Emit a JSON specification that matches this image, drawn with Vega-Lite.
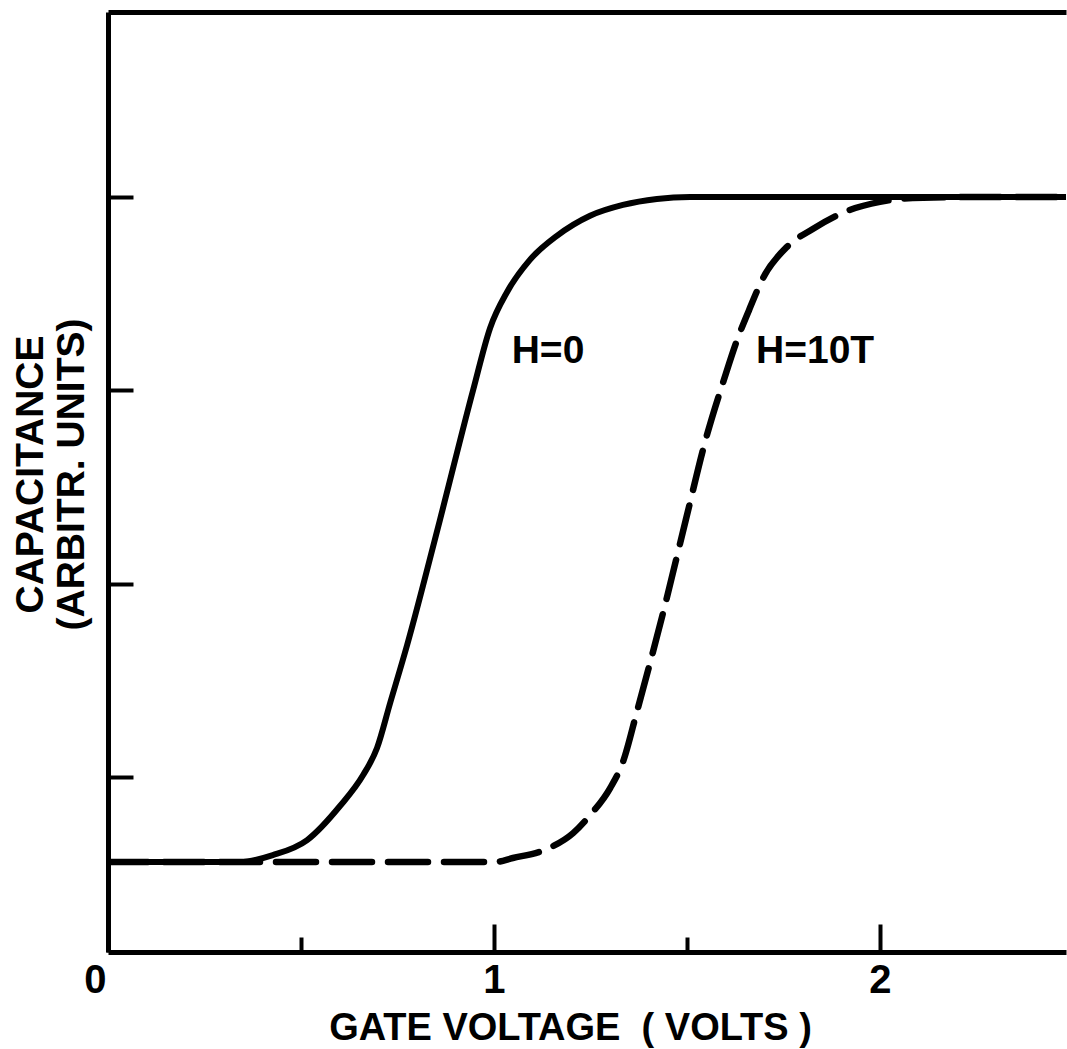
{
  "$schema": "https://vega.github.io/schema/vega-lite/v6.json",
  "width": 958,
  "height": 940,
  "autosize": {"type": "none"},
  "padding": {"left": 108, "top": 12, "right": 1, "bottom": 97},
  "background": "white",
  "config": {
    "view": {"stroke": null},
    "font": "Liberation Sans",
    "axis": {"domainColor": "black", "tickColor": "black", "labelColor": "black", "titleColor": "black", "grid": false}
  },
  "datasets": {
    "h0": [
      {"v": 0, "c": 0.56}, {"v": 0.342, "c": 0.56}, {"v": 0.427, "c": 0.596}, {"v": 0.516, "c": 0.674},
      {"v": 0.601, "c": 0.85}, {"v": 0.661, "c": 1.01}, {"v": 0.697, "c": 1.15}, {"v": 0.731, "c": 1.383},
      {"v": 0.775, "c": 1.683}, {"v": 0.86, "c": 2.33}, {"v": 0.946, "c": 3.002}, {"v": 0.99, "c": 3.323},
      {"v": 1.034, "c": 3.509}, {"v": 1.093, "c": 3.675}, {"v": 1.163, "c": 3.799}, {"v": 1.249, "c": 3.903},
      {"v": 1.334, "c": 3.959}, {"v": 1.422, "c": 3.99}, {"v": 1.508, "c": 4.0}, {"v": 2.482, "c": 4.0}
    ],
    "h10": [
      {"v": 0, "c": 0.56}, {"v": 1.0, "c": 0.56}, {"v": 1.049, "c": 0.581}, {"v": 1.137, "c": 0.628},
      {"v": 1.205, "c": 0.71}, {"v": 1.249, "c": 0.803}, {"v": 1.301, "c": 0.943}, {"v": 1.335, "c": 1.083},
      {"v": 1.37, "c": 1.336}, {"v": 1.436, "c": 1.833}, {"v": 1.497, "c": 2.33}, {"v": 1.549, "c": 2.749},
      {"v": 1.598, "c": 3.069}, {"v": 1.629, "c": 3.256}, {"v": 1.661, "c": 3.416}, {"v": 1.700, "c": 3.592},
      {"v": 1.759, "c": 3.742}, {"v": 1.826, "c": 3.835}, {"v": 1.915, "c": 3.928}, {"v": 2.0, "c": 3.975},
      {"v": 2.085, "c": 3.995}, {"v": 2.259, "c": 4.0}, {"v": 2.482, "c": 4.0}
    ],
    "labels": [
      {"v": 1.14, "c": 3.204, "text": "H=0"},
      {"v": 1.832, "c": 3.204, "text": "H=10T"}
    ]
  },
  "resolve": {"axis": {"x": "independent"}},
  "layer": [
    {
      "data": {"name": "h10"},
      "mark": {"type": "line", "color": "black", "strokeWidth": 6.5, "interpolate": "monotone", "strokeDash": [40, 16], "strokeCap": "round", "clip": true},
      "encoding": {
        "x": {"field": "v", "type": "quantitative", "scale": {"domain": [0, 2.482], "nice": false, "zero": false},
          "axis": {"orient": "bottom", "values": [0.5, 1.5], "tickSize": -15, "tickWidth": 4, "labels": false, "domain": false, "title": null}},
        "y": {"field": "c", "type": "quantitative", "scale": {"domain": [0.095, 4.957], "nice": false, "zero": false},
          "axis": {"orient": "left", "values": [1, 2, 3, 4], "tickSize": -25, "tickWidth": 4, "labels": false, "domainWidth": 5,
            "title": ["CAPACITANCE", "(ARBITR. UNITS)"], "titleFontSize": 39, "titleFontWeight": "bold", "titleLineHeight": 41,
            "titleX": -78, "titleY": 462, "titleAngle": -90, "titleAlign": "center", "titleBaseline": "middle"}}
      }
    },
    {
      "data": {"name": "h0"},
      "mark": {"type": "line", "color": "black", "strokeWidth": 6, "interpolate": "monotone", "strokeCap": "round", "clip": true},
      "encoding": {
        "x": {"field": "v", "type": "quantitative", "scale": {"domain": [0, 2.482], "nice": false, "zero": false},
          "axis": {"orient": "bottom", "values": [0, 1, 2], "tickSize": -28, "tickWidth": 4, "domainWidth": 5,
            "labelFontSize": 40, "labelFontWeight": "bold", "labelPadding": 36, "labelFlush": false, "labelBaseline": "top",
            "labelAlign": {"condition": {"test": "datum.value === 0", "value": "right"}, "value": "center"},
            "labelOffset": {"condition": {"test": "datum.value === 0", "value": -2}, "value": 0},
            "title": "GATE VOLTAGE\u00a0\u00a0(\u00a0VOLTS\u00a0)", "titleFontSize": 38, "titleFontWeight": "bold",
            "titleX": 462, "titleY": 87, "titleAlign": "center", "titleBaseline": "alphabetic"}},
        "y": {"field": "c", "type": "quantitative", "scale": {"domain": [0.095, 4.957], "nice": false, "zero": false},
          "axis": {"orient": "left", "values": [1, 2, 3, 4], "tickSize": -25, "tickWidth": 4, "labels": false, "domainWidth": 5,
            "title": ["CAPACITANCE", "(ARBITR. UNITS)"], "titleFontSize": 39, "titleFontWeight": "bold", "titleLineHeight": 41,
            "titleX": -78, "titleY": 462, "titleAngle": -90, "titleAlign": "center", "titleBaseline": "middle"}}
      }
    },
    {
      "data": {"name": "labels"},
      "mark": {"type": "text", "color": "black", "fontSize": 39, "fontWeight": "bold", "align": "center", "baseline": "middle"},
      "encoding": {
        "x": {"field": "v", "type": "quantitative", "scale": {"domain": [0, 2.482], "nice": false, "zero": false},
          "axis": {"orient": "top", "ticks": false, "labels": false, "domainWidth": 5, "title": null}},
        "y": {"field": "c", "type": "quantitative", "scale": {"domain": [0.095, 4.957], "nice": false, "zero": false},
          "axis": {"orient": "left", "values": [1, 2, 3, 4], "tickSize": -25, "tickWidth": 4, "labels": false, "domainWidth": 5,
            "title": ["CAPACITANCE", "(ARBITR. UNITS)"], "titleFontSize": 39, "titleFontWeight": "bold", "titleLineHeight": 41,
            "titleX": -78, "titleY": 462, "titleAngle": -90, "titleAlign": "center", "titleBaseline": "middle"}},
        "text": {"field": "text", "type": "nominal"}
      }
    }
  ]
}
